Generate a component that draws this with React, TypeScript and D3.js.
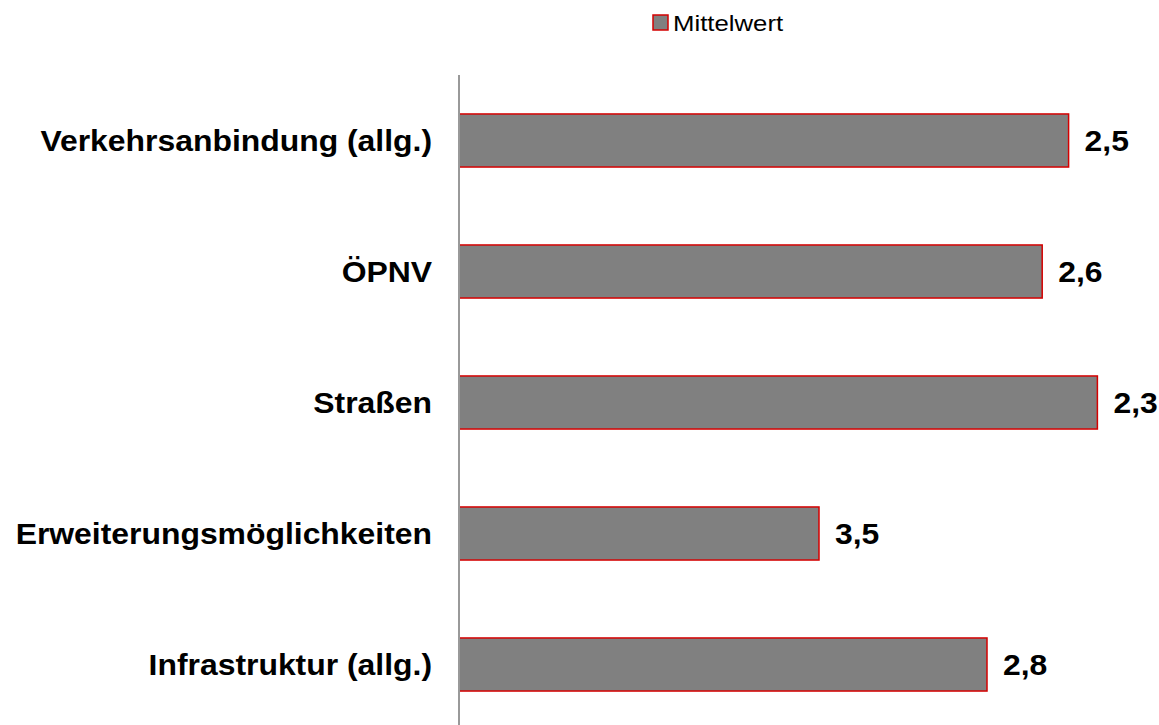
import React, { useEffect, useRef } from "react";
import * as d3 from "d3";

// categories top to bottom
const categories = [
  "Verkehrsanbindung (allg.)",
  "ÖPNV",
  "Straßen",
  "Erweiterungsmöglichkeiten",
  "Infrastruktur (allg.)",
];
// mean grade (lower = better, axis reversed)
const values = [2.46, 2.57, 2.34, 3.5, 2.8];
const seriesName = "Mittelwert";

const App = () => {
  const svgRef = useRef<SVGSVGElement>(null);

  useEffect(() => {
    const width = 1159;
    const height = 725;
    const svg = d3.select(svgRef.current).attr("width", width).attr("height", height);
    svg.selectAll("*").remove();

    const left = 459;
    const top = 75;

    // reversed value axis: 5 sits at the category axis
    const xScale = d3.scaleLinear().domain([5, 2.25]).range([left, left + 660]);
    const yScale = d3
      .scaleBand()
      .domain(categories)
      .range([top, top + 655])
      .paddingInner(0.595)
      .paddingOuter(0.2975);

    const font = "'Liberation Sans', Arial, sans-serif";
    const fmt = (v: number) => v.toFixed(1).replace(".", ",");
    const stretch = 1.1; // text in the original is a bit wider than normal

    // bars
    svg
      .selectAll(".bar")
      .data(values)
      .enter()
      .append("rect")
      .attr("class", "bar")
      .attr("x", xScale(5))
      .attr("y", (d, i) => yScale(categories[i])!)
      .attr("width", (d) => xScale(d) - xScale(5))
      .attr("height", yScale.bandwidth())
      .style("fill", "#808080")
      .style("stroke", "#d40000")
      .style("stroke-width", 1.5);

    // category axis line
    svg
      .append("line")
      .attr("x1", left)
      .attr("x2", left)
      .attr("y1", top)
      .attr("y2", height)
      .style("stroke", "#999")
      .style("stroke-width", 2);

    // category labels
    svg
      .selectAll(".cat")
      .data(categories)
      .enter()
      .append("text")
      .attr("class", "cat")
      .attr(
        "transform",
        (d) => `translate(${left - 27},${yScale(d)! + yScale.bandwidth() / 2}) scale(${stretch},1)`
      )
      .attr("dy", "0.35em")
      .attr("text-anchor", "end")
      .style("font-family", font)
      .style("font-weight", "bold")
      .style("font-size", "29px")
      .text((d) => d);

    // value labels
    svg
      .selectAll(".val")
      .data(values)
      .enter()
      .append("text")
      .attr("class", "val")
      .attr(
        "transform",
        (d, i) =>
          `translate(${xScale(d) + 16},${yScale(categories[i])! + yScale.bandwidth() / 2}) scale(${stretch},1)`
      )
      .attr("dy", "0.35em")
      .style("font-family", font)
      .style("font-weight", "bold")
      .style("font-size", "29px")
      .text((d) => fmt(d));

    // legend
    const legend = svg.append("g").attr("transform", "translate(653,15)");
    legend
      .append("rect")
      .attr("width", 15)
      .attr("height", 15)
      .style("fill", "#808080")
      .style("stroke", "#d40000")
      .style("stroke-width", 1.5);
    legend
      .append("text")
      .attr("transform", "translate(20,16) scale(1.12,1)")
      .style("font-family", font)
      .style("font-size", "23px")
      .text(seriesName);
  }, []);

  return (
    <div style={{ position: "absolute", left: 0, top: 0, overflow: "hidden" }}>
      <svg ref={svgRef} style={{ display: "block" }}></svg>
    </div>
  );
};

export default App;
